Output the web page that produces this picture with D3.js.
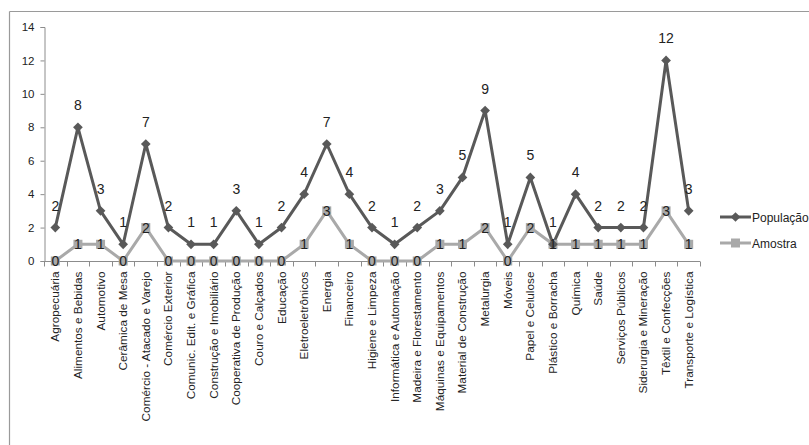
<!DOCTYPE html>
<html>
<head>
<meta charset="utf-8">
<script src="https://cdn.jsdelivr.net/npm/d3@7"></script>
<style>
  body { margin: 0; background: #fff; }
  svg { font-family: "Liberation Sans", "DejaVu Sans", sans-serif; }
</style>
</head>
<body>
<svg id="chart"></svg>
<script>
// Dimensions
const svg_width = 809;
const svg_height = 445;

// Data
const categories = [
  "Agropecuária", "Alimentos e Bebidas", "Automotivo", "Cerâmica de Mesa",
  "Comércio - Atacado e Varejo", "Comércio Exterior", "Comunic. Edit. e Gráfica",
  "Construção e Imobiliário", "Cooperativa de Produção", "Couro e Calçados",
  "Educação", "Eletroeletrônicos", "Energia", "Financeiro", "Higiene e Limpeza",
  "Informática e Automação", "Madeira e Florestamento", "Máquinas e Equipamentos",
  "Material de Construção", "Metalurgia", "Móveis", "Papel e Celulose",
  "Plástico e Borracha", "Química", "Saúde", "Serviços Públicos",
  "Siderurgia e Mineração", "Têxtil e Confecções", "Transporte e Logística"
];
const populacao = [2, 8, 3, 1, 7, 2, 1, 1, 3, 1, 2, 4, 7, 4, 2, 1, 2, 3, 5, 9, 1, 5, 1, 4, 2, 2, 2, 12, 3];
const amostra   = [0, 1, 1, 0, 2, 0, 0, 0, 0, 0, 0, 1, 3, 1, 0, 0, 0, 1, 1, 2, 0, 2, 1, 1, 1, 1, 1, 3, 1];
const yTicks = [0, 2, 4, 6, 8, 10, 12, 14];
const seriesNames = ["População", "Amostra"];

const colPop = "#595959";
const colAm = "#a9a9a9";

const svg = d3.select("#chart")
  .attr("width", svg_width)
  .attr("height", svg_height);

// Outer frame (top and left edges visible)
svg.append("line").attr("x1", 9.5).attr("x2", svg_width).attr("y1", 11.5).attr("y2", 11.5)
  .attr("stroke", "#9a9a9a").attr("stroke-width", 1.2);
svg.append("line").attr("x1", 9.5).attr("x2", 9.5).attr("y1", 11.5).attr("y2", svg_height)
  .attr("stroke", "#9a9a9a").attr("stroke-width", 1.2);

// Scales
const xScale = d3.scaleBand()
  .domain(categories)
  .range([44, 700]);

const yScale = d3.scaleLinear()
  .domain([0, 14])
  .range([261, 27]);

const cx = d => xScale(d) + xScale.bandwidth() / 2;

// Y axis
const yAxis = svg.append("g")
  .attr("transform", "translate(44.5,0)")
  .call(d3.axisLeft(yScale).tickValues(yTicks).tickSize(4).tickPadding(6));
yAxis.select(".domain").attr("stroke", "#8c8c8c");
yAxis.selectAll(".tick line").attr("stroke", "#8c8c8c");
yAxis.selectAll("text").attr("font-size", 11.5).attr("fill", "#222")
  .style("font-family", "Liberation Sans, sans-serif");

// X axis: ticks at category boundaries
const xAxis = svg.append("g").attr("transform", "translate(0,261.5)");
xAxis.append("line").attr("x1", 44).attr("x2", 700).attr("stroke", "#8c8c8c");
xAxis.selectAll("line.tk")
  .data(categories.concat(["_end"]))
  .enter().append("line")
  .attr("class", "tk")
  .attr("x1", (d, i) => i < categories.length ? Math.round(xScale(d)) + 0.5 : 700.5)
  .attr("x2", (d, i) => i < categories.length ? Math.round(xScale(d)) + 0.5 : 700.5)
  .attr("y1", 0).attr("y2", 5)
  .attr("stroke", "#8c8c8c");
xAxis.selectAll("text")
  .data(categories)
  .enter().append("text")
  .attr("transform", d => `translate(${cx(d) + 4},10) rotate(-90)`)
  .attr("text-anchor", "end")
  .attr("font-size", 11.8)
  .attr("fill", "#222")
  .text(d => d);

// Lines
const line = d3.line()
  .x((d, i) => cx(categories[i]))
  .y(d => yScale(d));

svg.append("path").datum(amostra)
  .attr("d", line).attr("fill", "none")
  .attr("stroke", colAm).attr("stroke-width", 3).attr("stroke-linejoin", "round");
svg.append("path").datum(populacao)
  .attr("d", line).attr("fill", "none")
  .attr("stroke", colPop).attr("stroke-width", 3).attr("stroke-linejoin", "round");

// Markers
svg.selectAll("rect.am")
  .data(amostra)
  .enter().append("rect")
  .attr("class", "am")
  .attr("x", (d, i) => cx(categories[i]) - 4.5)
  .attr("y", d => yScale(d) - 4.5)
  .attr("width", 9).attr("height", 9)
  .attr("fill", colAm);

const diamond = d3.symbol().type(d3.symbolDiamond2).size(60);
svg.selectAll("path.pop")
  .data(populacao)
  .enter().append("path")
  .attr("class", "pop")
  .attr("d", diamond)
  .attr("transform", (d, i) => `translate(${cx(categories[i])},${yScale(d)})`)
  .attr("fill", colPop);

// Data labels
svg.selectAll("text.lpop")
  .data(populacao)
  .enter().append("text")
  .attr("class", "lpop")
  .attr("x", (d, i) => cx(categories[i]))
  .attr("y", d => yScale(d) - 17)
  .attr("text-anchor", "middle")
  .attr("font-size", 14)
  .attr("fill", "#222")
  .text(d => d);

svg.selectAll("text.lam")
  .data(amostra)
  .enter().append("text")
  .attr("class", "lam")
  .attr("x", (d, i) => cx(categories[i]))
  .attr("y", d => yScale(d) + 5)
  .attr("text-anchor", "middle")
  .attr("font-size", 14)
  .attr("fill", "#222")
  .text(d => d);

// Legend
const legend = svg.append("g").attr("transform", "translate(720,217)");
seriesNames.forEach((name, i) => {
  const g = legend.append("g").attr("transform", `translate(0,${i * 26})`);
  const c = i === 0 ? colPop : colAm;
  g.append("line").attr("x1", 0).attr("x2", 31).attr("stroke", c).attr("stroke-width", 3);
  if (i === 0) {
    g.append("path").attr("d", diamond).attr("transform", "translate(15.5,0)").attr("fill", c);
  } else {
    g.append("rect").attr("x", 11).attr("y", -4.5).attr("width", 9).attr("height", 9).attr("fill", c);
  }
  g.append("text").attr("x", 32).attr("y", 4.5).attr("font-size", 12).attr("fill", "#222").text(name);
});
</script>
</body>
</html>
